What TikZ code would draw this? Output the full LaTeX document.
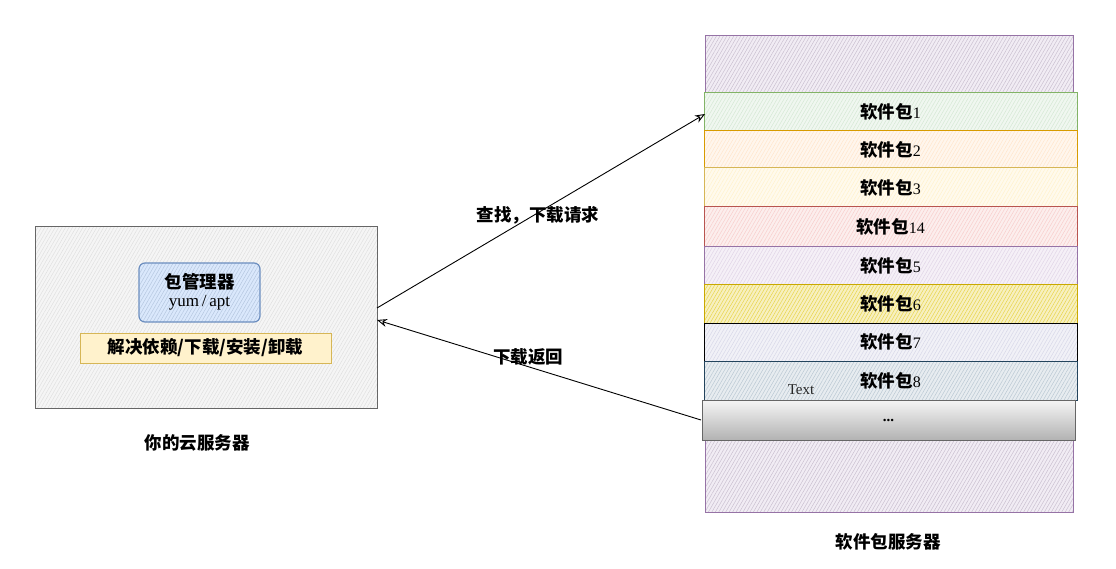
\documentclass[tikz,border=0pt]{standalone}
\usepackage{fontspec}
\setmainfont{Liberation Serif}
\newfontfamily\cjk{Noto Sans CJK SC}
\usetikzlibrary{arrows.meta,patterns.meta}
\definecolor{gbd}{HTML}{82B366}\definecolor{gfl}{HTML}{D5E8D4}
\definecolor{obd}{HTML}{D79B00}\definecolor{ofl}{HTML}{FFE6CC}
\definecolor{ybd}{HTML}{D6B656}\definecolor{yfl}{HTML}{FFF2CC}
\definecolor{rbd}{HTML}{B85450}\definecolor{rfl}{HTML}{F8CECC}
\definecolor{pbd}{HTML}{9673A6}\definecolor{pfl}{HTML}{E1D5E7}
\definecolor{y2bd}{HTML}{C9A800}\definecolor{y2fl}{HTML}{E8D44A}
\definecolor{kfl}{HTML}{D8D8E8}
\definecolor{bbd}{HTML}{23445D}\definecolor{bfl}{HTML}{BAC8D3}
\definecolor{lbd}{HTML}{6C8EBF}\definecolor{lfl}{HTML}{DAE8FC}
\definecolor{gry}{HTML}{666666}
\tikzset{
  hatch/.style={pattern={Lines[angle=60,distance=3pt,line width=0.5pt]},pattern color=#1},
  cjkb/.style={font=\cjk\bfseries\fontsize{17.5}{20}\selectfont},
  lbl/.style={cjkb,text=black},
  arr/.style={draw=black,line width=0.9pt,-{Stealth[open,length=10pt,width=8pt]}},
}
\begin{document}
\begin{tikzpicture}[x=1pt,y=-1pt]
\useasboundingbox (0,0) rectangle (1116,569);
% left server
\fill[white!96!black] (35,227) rectangle (377,408);
\fill[hatch=white!88!black] (35,227) rectangle (377,408);
\node[draw=gry,line width=1pt,minimum width=342pt,minimum height=181pt,inner sep=0pt] (srv) at (206,317.5) {};
\fill[lfl,rounded corners=6pt] (139,263) rectangle (260,322);
\fill[hatch=lbd!50,rounded corners=6pt] (139,263) rectangle (260,322);
\node[draw=lbd,line width=1.2pt,rounded corners=6pt,minimum width=121pt,minimum height=59pt,inner sep=0pt] (pm) at (199.5,292.5) {};
\node[lbl] (pmt) at (199.5,282) {包管理器};
\node[font=\fontsize{17}{19}\selectfont] (pmy) at (199.5,303) {yum\,/\,apt};
\node[draw=ybd,fill=yfl,line width=0.8pt,minimum width=251pt,minimum height=30pt,inner sep=0pt,lbl] (dep) at (205.5,348) {解决依赖/下载/安装/卸载};
\node[lbl] (srvl) at (197,443) {你的云服务器};
% right server
\fill[pfl!45] (705,36) rectangle (1073,512);
\fill[hatch=pfl!90!black] (705,36) rectangle (1073,512);
\node[draw=pbd,line width=1pt,minimum width=368pt,minimum height=476pt,inner sep=0pt] (repo) at (889,274) {};
\node[lbl] (repol) at (888,542) {软件包服务器};
% rows
\foreach \n/\yt/\yb/\bd/\fl/\t in {
 p1/93/131/gbd/gfl/1, p2/131/168/obd/ofl/2, p3/168/207/ybd/yfl/3, p4/207/247/rbd/rfl/14,
 p5/247/285/pbd/pfl/5, p6/285/323/y2bd/y2fl/6, p7/323/361/black/kfl/7, p8/361/400/bbd/bfl/8}{
  \fill[\fl!35] (704,\yt) rectangle (1077,\yb);
  \fill[hatch=\fl] (704,\yt) rectangle (1077,\yb);
  \node[draw=\bd,line width=1pt,minimum width=373pt,minimum height={\yb-\yt},inner sep=0pt] (\n) at (890.5,{(\yt+\yb)/2})
    {{\cjk\bfseries\fontsize{17.5}{20}\selectfont 软件包}{\fontsize{16}{18}\selectfont\t}};
}
\node[draw=gry,line width=1pt,top color=white!96!black,bottom color=black!30,minimum width=373pt,minimum height=40pt,inner sep=0pt] (p9) at (888.5,420) {\fontsize{15}{16}\selectfont\bfseries ...};
\node[font=\fontsize{15}{16}\selectfont,text=black!85] (txt) at (801,390) {Text};
% arrows
\coordinate (a1s) at (377,308);
\coordinate (a1e) at (705,114);
\coordinate (a2s) at (701,420);
\coordinate (a2e) at (377,320);
\draw[arr] (a1s) -- (a1e);
\draw[arr] (a2s) -- (a2e);
\node[lbl] (l1) at (538,215) {查找，下载请求};
\node[lbl] (l2) at (528,357) {下载返回};
\end{tikzpicture}
\end{document}
